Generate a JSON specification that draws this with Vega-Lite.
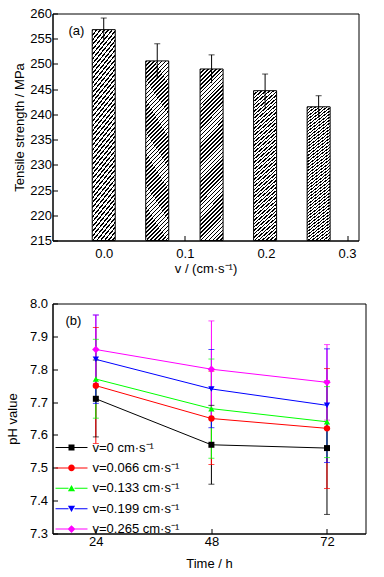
{
  "$schema": "https://vega.github.io/schema/vega-lite/v6.json",
  "padding": {"left": 5.5, "top": 6.5, "right": 5, "bottom": 5},
  "spacing": 21,
  "config": {
    "font": "Liberation Sans",
    "view": {"stroke": "#000000", "strokeWidth": 1},
    "axis": {
      "grid": false,
      "domainColor": "#000000",
      "tickColor": "#000000",
      "labelColor": "#000000",
      "titleColor": "#000000",
      "labelFontSize": 13,
      "titleFontSize": 13,
      "titleFontWeight": "normal",
      "tickSize": -5,
      "labelOverlap": false,
      "labelFont": "Liberation Sans",
      "titleFont": "Liberation Sans"
    },
    "title": {"fontSize": 13, "fontWeight": "normal", "font": "Liberation Sans", "color": "#000000"}
  },
  "vconcat": [
    {
      "width": 306,
      "height": 227,
      "title": {"text": "(a)", "anchor": "start", "frame": "group", "baseline": "top", "offset": 0, "dx": 16, "dy": 30},
      "data": {
        "values": [
          {"v": 0, "ts": 256.8, "lo": 254.5, "hi": 259.1},
          {"v": 0.066, "ts": 250.6, "lo": 247.2, "hi": 254.0},
          {"v": 0.133, "ts": 249.0, "lo": 246.2, "hi": 251.8},
          {"v": 0.199, "ts": 244.7, "lo": 241.4, "hi": 248.0},
          {"v": 0.265, "ts": 241.5, "lo": 239.3, "hi": 243.7}
        ]
      },
      "encoding": {
        "x": {
          "field": "v", "type": "quantitative",
          "scale": {"domain": [-0.057, 0.308], "nice": false, "zero": false},
          "axis": {"values": [0, 0.1, 0.2, 0.3], "tickCount": 20, "format": ".1f", "title": "v / (cm·s⁻¹)", "labelPadding": 11.5, "titlePadding": 2, "labelOverlap": false}
        }
      },
      "layer": [
        {
          "mark": {
            "type": "bar",
            "size": 23,
            "stroke": "#000000",
            "strokeWidth": 1,
            "fill": {
              "gradient": "linear",
              "x1": 0, "y1": 0, "x2": 0.15, "y2": 1.115,
              "stops": [
                {"offset": 0, "color": "#000"}, {"offset": 0.008, "color": "#000"}, {"offset": 0.008, "color": "#fff"}, {"offset": 0.02, "color": "#fff"},
                {"offset": 0.02, "color": "#000"}, {"offset": 0.028, "color": "#000"}, {"offset": 0.028, "color": "#fff"}, {"offset": 0.04, "color": "#fff"},
                {"offset": 0.04, "color": "#000"}, {"offset": 0.048, "color": "#000"}, {"offset": 0.048, "color": "#fff"}, {"offset": 0.06, "color": "#fff"},
                {"offset": 0.06, "color": "#000"}, {"offset": 0.068, "color": "#000"}, {"offset": 0.068, "color": "#fff"}, {"offset": 0.08, "color": "#fff"},
                {"offset": 0.08, "color": "#000"}, {"offset": 0.088, "color": "#000"}, {"offset": 0.088, "color": "#fff"}, {"offset": 0.1, "color": "#fff"},
                {"offset": 0.1, "color": "#000"}, {"offset": 0.108, "color": "#000"}, {"offset": 0.108, "color": "#fff"}, {"offset": 0.12, "color": "#fff"},
                {"offset": 0.12, "color": "#000"}, {"offset": 0.128, "color": "#000"}, {"offset": 0.128, "color": "#fff"}, {"offset": 0.14, "color": "#fff"},
                {"offset": 0.14, "color": "#000"}, {"offset": 0.148, "color": "#000"}, {"offset": 0.148, "color": "#fff"}, {"offset": 0.16, "color": "#fff"},
                {"offset": 0.16, "color": "#000"}, {"offset": 0.168, "color": "#000"}, {"offset": 0.168, "color": "#fff"}, {"offset": 0.18, "color": "#fff"},
                {"offset": 0.18, "color": "#000"}, {"offset": 0.188, "color": "#000"}, {"offset": 0.188, "color": "#fff"}, {"offset": 0.2, "color": "#fff"},
                {"offset": 0.2, "color": "#000"}, {"offset": 0.208, "color": "#000"}, {"offset": 0.208, "color": "#fff"}, {"offset": 0.22, "color": "#fff"},
                {"offset": 0.22, "color": "#000"}, {"offset": 0.228, "color": "#000"}, {"offset": 0.228, "color": "#fff"}, {"offset": 0.24, "color": "#fff"},
                {"offset": 0.24, "color": "#000"}, {"offset": 0.248, "color": "#000"}, {"offset": 0.248, "color": "#fff"}, {"offset": 0.26, "color": "#fff"},
                {"offset": 0.26, "color": "#000"}, {"offset": 0.268, "color": "#000"}, {"offset": 0.268, "color": "#fff"}, {"offset": 0.28, "color": "#fff"},
                {"offset": 0.28, "color": "#000"}, {"offset": 0.288, "color": "#000"}, {"offset": 0.288, "color": "#fff"}, {"offset": 0.3, "color": "#fff"},
                {"offset": 0.3, "color": "#000"}, {"offset": 0.308, "color": "#000"}, {"offset": 0.308, "color": "#fff"}, {"offset": 0.32, "color": "#fff"},
                {"offset": 0.32, "color": "#000"}, {"offset": 0.328, "color": "#000"}, {"offset": 0.328, "color": "#fff"}, {"offset": 0.34, "color": "#fff"},
                {"offset": 0.34, "color": "#000"}, {"offset": 0.348, "color": "#000"}, {"offset": 0.348, "color": "#fff"}, {"offset": 0.36, "color": "#fff"},
                {"offset": 0.36, "color": "#000"}, {"offset": 0.368, "color": "#000"}, {"offset": 0.368, "color": "#fff"}, {"offset": 0.38, "color": "#fff"},
                {"offset": 0.38, "color": "#000"}, {"offset": 0.388, "color": "#000"}, {"offset": 0.388, "color": "#fff"}, {"offset": 0.4, "color": "#fff"},
                {"offset": 0.4, "color": "#000"}, {"offset": 0.408, "color": "#000"}, {"offset": 0.408, "color": "#fff"}, {"offset": 0.42, "color": "#fff"},
                {"offset": 0.42, "color": "#000"}, {"offset": 0.428, "color": "#000"}, {"offset": 0.428, "color": "#fff"}, {"offset": 0.44, "color": "#fff"},
                {"offset": 0.44, "color": "#000"}, {"offset": 0.448, "color": "#000"}, {"offset": 0.448, "color": "#fff"}, {"offset": 0.46, "color": "#fff"},
                {"offset": 0.46, "color": "#000"}, {"offset": 0.468, "color": "#000"}, {"offset": 0.468, "color": "#fff"}, {"offset": 0.48, "color": "#fff"},
                {"offset": 0.48, "color": "#000"}, {"offset": 0.488, "color": "#000"}, {"offset": 0.488, "color": "#fff"}, {"offset": 0.5, "color": "#fff"},
                {"offset": 0.5, "color": "#000"}, {"offset": 0.508, "color": "#000"}, {"offset": 0.508, "color": "#fff"}, {"offset": 0.52, "color": "#fff"},
                {"offset": 0.52, "color": "#000"}, {"offset": 0.528, "color": "#000"}, {"offset": 0.528, "color": "#fff"}, {"offset": 0.54, "color": "#fff"},
                {"offset": 0.54, "color": "#000"}, {"offset": 0.548, "color": "#000"}, {"offset": 0.548, "color": "#fff"}, {"offset": 0.56, "color": "#fff"},
                {"offset": 0.56, "color": "#000"}, {"offset": 0.568, "color": "#000"}, {"offset": 0.568, "color": "#fff"}, {"offset": 0.58, "color": "#fff"},
                {"offset": 0.58, "color": "#000"}, {"offset": 0.588, "color": "#000"}, {"offset": 0.588, "color": "#fff"}, {"offset": 0.6, "color": "#fff"},
                {"offset": 0.6, "color": "#000"}, {"offset": 0.608, "color": "#000"}, {"offset": 0.608, "color": "#fff"}, {"offset": 0.62, "color": "#fff"},
                {"offset": 0.62, "color": "#000"}, {"offset": 0.628, "color": "#000"}, {"offset": 0.628, "color": "#fff"}, {"offset": 0.64, "color": "#fff"},
                {"offset": 0.64, "color": "#000"}, {"offset": 0.648, "color": "#000"}, {"offset": 0.648, "color": "#fff"}, {"offset": 0.66, "color": "#fff"},
                {"offset": 0.66, "color": "#000"}, {"offset": 0.668, "color": "#000"}, {"offset": 0.668, "color": "#fff"}, {"offset": 0.68, "color": "#fff"},
                {"offset": 0.68, "color": "#000"}, {"offset": 0.688, "color": "#000"}, {"offset": 0.688, "color": "#fff"}, {"offset": 0.7, "color": "#fff"},
                {"offset": 0.7, "color": "#000"}, {"offset": 0.708, "color": "#000"}, {"offset": 0.708, "color": "#fff"}, {"offset": 0.72, "color": "#fff"},
                {"offset": 0.72, "color": "#000"}, {"offset": 0.728, "color": "#000"}, {"offset": 0.728, "color": "#fff"}, {"offset": 0.74, "color": "#fff"},
                {"offset": 0.74, "color": "#000"}, {"offset": 0.748, "color": "#000"}, {"offset": 0.748, "color": "#fff"}, {"offset": 0.76, "color": "#fff"},
                {"offset": 0.76, "color": "#000"}, {"offset": 0.768, "color": "#000"}, {"offset": 0.768, "color": "#fff"}, {"offset": 0.78, "color": "#fff"},
                {"offset": 0.78, "color": "#000"}, {"offset": 0.788, "color": "#000"}, {"offset": 0.788, "color": "#fff"}, {"offset": 0.8, "color": "#fff"},
                {"offset": 0.8, "color": "#000"}, {"offset": 0.808, "color": "#000"}, {"offset": 0.808, "color": "#fff"}, {"offset": 0.82, "color": "#fff"},
                {"offset": 0.82, "color": "#000"}, {"offset": 0.828, "color": "#000"}, {"offset": 0.828, "color": "#fff"}, {"offset": 0.84, "color": "#fff"},
                {"offset": 0.84, "color": "#000"}, {"offset": 0.848, "color": "#000"}, {"offset": 0.848, "color": "#fff"}, {"offset": 0.86, "color": "#fff"},
                {"offset": 0.86, "color": "#000"}, {"offset": 0.868, "color": "#000"}, {"offset": 0.868, "color": "#fff"}, {"offset": 0.88, "color": "#fff"},
                {"offset": 0.88, "color": "#000"}, {"offset": 0.888, "color": "#000"}, {"offset": 0.888, "color": "#fff"}, {"offset": 0.9, "color": "#fff"},
                {"offset": 0.9, "color": "#000"}, {"offset": 0.908, "color": "#000"}, {"offset": 0.908, "color": "#fff"}, {"offset": 0.92, "color": "#fff"},
                {"offset": 0.92, "color": "#000"}, {"offset": 0.928, "color": "#000"}, {"offset": 0.928, "color": "#fff"}, {"offset": 0.94, "color": "#fff"},
                {"offset": 0.94, "color": "#000"}, {"offset": 0.948, "color": "#000"}, {"offset": 0.948, "color": "#fff"}, {"offset": 0.96, "color": "#fff"},
                {"offset": 0.96, "color": "#000"}, {"offset": 0.968, "color": "#000"}, {"offset": 0.968, "color": "#fff"}, {"offset": 0.98, "color": "#fff"},
                {"offset": 0.98, "color": "#000"}, {"offset": 0.988, "color": "#000"}, {"offset": 0.988, "color": "#fff"}, {"offset": 1, "color": "#fff"}
              ]
            }
          },
          "encoding": {
            "y": {
              "field": "ts", "type": "quantitative",
              "scale": {"domain": [215, 260], "nice": false, "zero": false},
              "axis": {"values": [215, 220, 225, 230, 235, 240, 245, 250, 255, 260], "tickCount": 20, "title": "Tensile strength / MPa", "labelPadding": 6, "titlePadding": 3, "labelOverlap": false}
            },
            "y2": {"datum": 215}
          }
        },
        {
          "mark": {"type": "rule", "color": "#000000", "strokeWidth": 1},
          "encoding": {
            "y": {"field": "lo", "type": "quantitative"},
            "y2": {"field": "hi"}
          }
        },
        {
          "mark": {"type": "tick", "orient": "horizontal", "size": 6, "thickness": 1, "color": "#000000"},
          "encoding": {
            "y": {"field": "hi", "type": "quantitative"}
          }
        }
      ]
    },
    {
      "width": 313,
      "height": 230,
      "title": {"text": "(b)", "anchor": "start", "frame": "group", "baseline": "top", "offset": 0, "dx": 13, "dy": 30},
      "data": {
        "values": [
          {"series": "v=0 cm·s⁻¹", "time": 24, "ph": 7.71, "lo": 7.594, "hi": 7.828},
          {"series": "v=0 cm·s⁻¹", "time": 48, "ph": 7.57, "lo": 7.45, "hi": 7.69},
          {"series": "v=0 cm·s⁻¹", "time": 72, "ph": 7.56, "lo": 7.358, "hi": 7.764},
          {"series": "v=0.066 cm·s⁻¹", "time": 24, "ph": 7.75, "lo": 7.574, "hi": 7.927},
          {"series": "v=0.066 cm·s⁻¹", "time": 48, "ph": 7.65, "lo": 7.51, "hi": 7.794},
          {"series": "v=0.066 cm·s⁻¹", "time": 72, "ph": 7.62, "lo": 7.437, "hi": 7.802},
          {"series": "v=0.133 cm·s⁻¹", "time": 24, "ph": 7.77, "lo": 7.651, "hi": 7.891},
          {"series": "v=0.133 cm·s⁻¹", "time": 48, "ph": 7.68, "lo": 7.529, "hi": 7.831},
          {"series": "v=0.133 cm·s⁻¹", "time": 72, "ph": 7.64, "lo": 7.531, "hi": 7.747},
          {"series": "v=0.199 cm·s⁻¹", "time": 24, "ph": 7.83, "lo": 7.696, "hi": 7.965},
          {"series": "v=0.199 cm·s⁻¹", "time": 48, "ph": 7.74, "lo": 7.622, "hi": 7.86},
          {"series": "v=0.199 cm·s⁻¹", "time": 72, "ph": 7.69, "lo": 7.516, "hi": 7.862},
          {"series": "v=0.265 cm·s⁻¹", "time": 24, "ph": 7.86, "lo": 7.757, "hi": 7.965},
          {"series": "v=0.265 cm·s⁻¹", "time": 48, "ph": 7.8, "lo": 7.653, "hi": 7.947},
          {"series": "v=0.265 cm·s⁻¹", "time": 72, "ph": 7.76, "lo": 7.645, "hi": 7.875}
        ]
      },
      "encoding": {
        "x": {
          "field": "time", "type": "quantitative",
          "scale": {"domain": [15, 80], "nice": false, "zero": false},
          "axis": {"values": [24, 48, 72], "tickCount": 20, "title": "Time / h", "labelPadding": 7, "titlePadding": 9, "labelOverlap": false}
        },
        "color": {
          "field": "series", "type": "nominal",
          "scale": {
            "domain": ["v=0 cm·s⁻¹", "v=0.066 cm·s⁻¹", "v=0.133 cm·s⁻¹", "v=0.199 cm·s⁻¹", "v=0.265 cm·s⁻¹"],
            "range": ["#000000", "#ff0000", "#00ff00", "#0000ff", "#ff00ff"]
          },
          "legend": {
            "orient": "none",
            "legendX": 12.5,
            "legendY": 427.5,
            "title": null,
            "padding": 0,
            "labelFontSize": 13,
            "labelFont": "Liberation Sans",
            "labelColor": "#000000",
            "labelOffset": 14.5,
            "rowPadding": 6.4,
            "symbolSize": 36,
            "symbolStrokeWidth": 0,
            "encode": {
              "symbols": {
                "update": {
                  "shape": {"signal": "['M-5.33,-0.17H-1V0.17H-5.33ZM1,-0.17H5.33V0.17H1ZM-1,-1H1V1H-1Z','M-5.33,-0.17H-1V0.17H-5.33ZM1,-0.17H5.33V0.17H1ZM-1.1,0A1.1,1.1,0,1,1,1.1,0A1.1,1.1,0,1,1,-1.1,0Z','M-5.33,-0.17H-1V0.17H-5.33ZM1,-0.17H5.33V0.17H1ZM0,-1.1L1.2,1L-1.2,1Z','M-5.33,-0.17H-1V0.17H-5.33ZM1,-0.17H5.33V0.17H1ZM0,1.1L-1.2,-1L1.2,-1Z','M-5.33,-0.17H-1V0.17H-5.33ZM1,-0.17H5.33V0.17H1ZM0,-1.3L1.3,0L0,1.3L-1.3,0Z'][indexof(['v=0 cm·s⁻¹','v=0.066 cm·s⁻¹','v=0.133 cm·s⁻¹','v=0.199 cm·s⁻¹','v=0.265 cm·s⁻¹'], datum.value)]"},
                  "fill": {"signal": "['#000000','#ff0000','#00ff00','#0000ff','#ff00ff'][indexof(['v=0 cm·s⁻¹','v=0.066 cm·s⁻¹','v=0.133 cm·s⁻¹','v=0.199 cm·s⁻¹','v=0.265 cm·s⁻¹'], datum.value)]"},
                  "strokeWidth": {"value": 0},
                  "opacity": {"value": 1}
                }
              }
            }
          }
        }
      },
      "layer": [
        {
          "mark": {"type": "rule", "strokeWidth": 1},
          "encoding": {
            "y": {
              "field": "lo", "type": "quantitative",
              "scale": {"domain": [7.3, 8.0], "nice": false, "zero": false},
              "axis": {"values": [7.3, 7.4, 7.5, 7.6, 7.7, 7.8, 7.9, 8.0], "tickCount": 20, "format": ".1f", "title": "pH value", "labelPadding": 10, "titlePadding": 9.5, "labelOverlap": false}
            },
            "y2": {"field": "hi"}
          }
        },
        {
          "mark": {"type": "tick", "orient": "horizontal", "size": 6, "thickness": 1},
          "encoding": {"y": {"field": "lo", "type": "quantitative"}}
        },
        {
          "mark": {"type": "tick", "orient": "horizontal", "size": 6, "thickness": 1},
          "encoding": {"y": {"field": "hi", "type": "quantitative"}}
        },
        {
          "mark": {"type": "line", "strokeWidth": 1},
          "encoding": {"y": {"field": "ph", "type": "quantitative"}}
        },
        {
          "transform": [{"filter": {"field": "series", "equal": "v=0 cm·s⁻¹"}}],
          "mark": {"type": "point", "shape": "square", "filled": true, "size": 36, "opacity": 1},
          "encoding": {"y": {"field": "ph", "type": "quantitative"}}
        },
        {
          "transform": [{"filter": {"field": "series", "equal": "v=0.066 cm·s⁻¹"}}],
          "mark": {"type": "point", "shape": "circle", "filled": true, "size": 40, "opacity": 1},
          "encoding": {"y": {"field": "ph", "type": "quantitative"}}
        },
        {
          "transform": [{"filter": {"field": "series", "equal": "v=0.133 cm·s⁻¹"}}],
          "mark": {"type": "point", "shape": "triangle-up", "filled": true, "size": 40, "opacity": 1},
          "encoding": {"y": {"field": "ph", "type": "quantitative"}}
        },
        {
          "transform": [{"filter": {"field": "series", "equal": "v=0.199 cm·s⁻¹"}}],
          "mark": {"type": "point", "shape": "triangle-down", "filled": true, "size": 40, "opacity": 1},
          "encoding": {"y": {"field": "ph", "type": "quantitative"}}
        },
        {
          "transform": [{"filter": {"field": "series", "equal": "v=0.265 cm·s⁻¹"}}],
          "mark": {"type": "point", "shape": "diamond", "filled": true, "size": 55, "opacity": 1},
          "encoding": {"y": {"field": "ph", "type": "quantitative"}}
        }
      ]
    }
  ]
}
